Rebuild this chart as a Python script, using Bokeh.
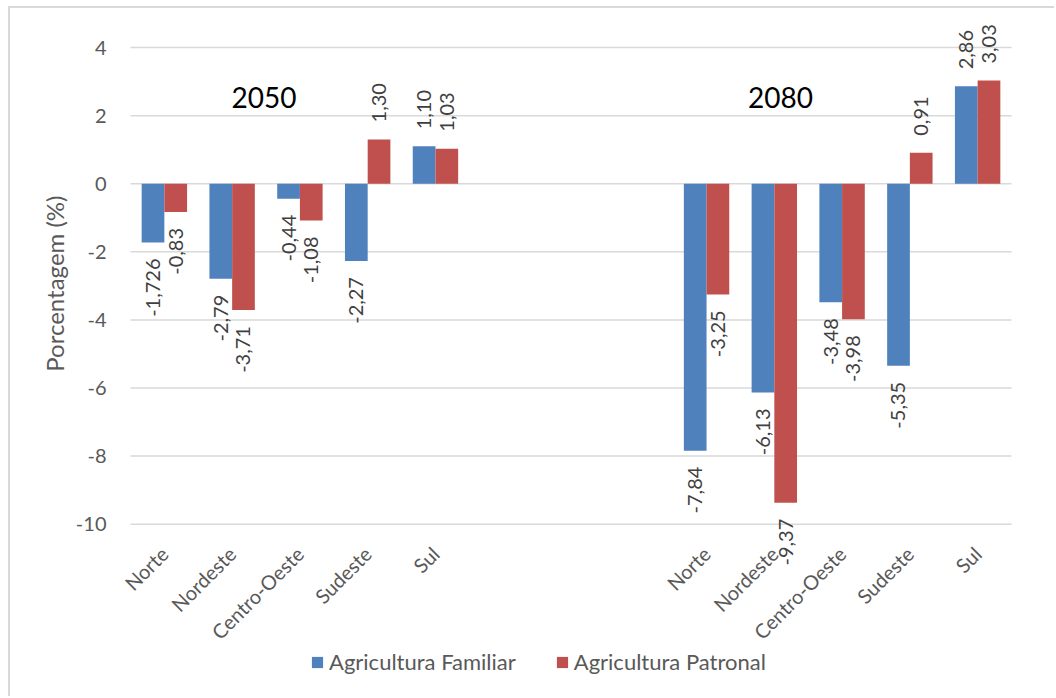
import math

from bokeh.core.properties import value
from bokeh.embed import file_html
from bokeh.models import (ColumnDataSource, FactorRange, FixedTicker, Label,
                          LabelSet, Legend, LegendItem, Range1d, Title)
from bokeh.plotting import figure
from bokeh.resources import INLINE
from bokeh.transform import dodge

# ---- data -------------------------------------------------------------
regions = ["Norte", "Nordeste", "Centro-Oeste", "Sudeste", "Sul"]
years = ["2050", "2080"]

familiar_2050 = [-1.726, -2.79, -0.44, -2.27, 1.10]
patronal_2050 = [-0.83, -3.71, -1.08, 1.30, 1.03]
familiar_2080 = [-7.84, -6.13, -3.48, -5.35, 2.86]
patronal_2080 = [-3.25, -9.37, -3.98, 0.91, 3.03]

y_ticks = [-10, -8, -6, -4, -2, 0, 2, 4]

series_names = ["Agricultura Familiar", "Agricultura Patronal"]
BLUE = "#4F81BD"
RED = "#C0504D"
FONT = "Lato"
GRAY = "#595959"
GRID = "#D9D9D9"

# ---- categorical slots: two groups separated by three empty slots -----
gap_slots = ["gap1", "gap2", "gap3"]
keys = [f"{y} {r}" for y in years for r in regions]
factors = keys[:5] + gap_slots + keys[5:]


def fmt(v):
    s = f"{v:.2f}" if round(v, 2) == v else f"{v}"
    return s.replace(".", ",")


def make_source(vals_2050, vals_2080):
    vals = list(vals_2050) + list(vals_2080)
    return ColumnDataSource(dict(
        x=keys,
        top=vals,
        label=[fmt(v) for v in vals],
        align=["left" if v >= 0 else "right" for v in vals],
        yoff=[17 if v >= 0 else -16 for v in vals],
    ))


src_fam = make_source(familiar_2050, familiar_2080)
src_pat = make_source(patronal_2050, patronal_2080)

# ---- figure -----------------------------------------------------------
# The frame reaches below the -10 line (and a little past the outer slots)
# so that category names, the lowest value label and the legend can sit
# around the plotted area without being clipped.
p = figure(
    width=1046, height=690,
    x_range=FactorRange(factors=factors, range_padding=0.221,
                        range_padding_units="absolute"),
    y_range=Range1d(-15.12, 5),
    x_axis_location=None,
    output_backend="svg", toolbar_location=None,
    min_border_left=105, min_border_right=30,
    min_border_top=5, min_border_bottom=0,
    styles={"margin-left": "8px", "margin-top": "6px",
            "border-left": "2px solid #D9D9D9",
            "border-top": "2px solid #D9D9D9"},
)
p.outline_line_color = None
p.background_fill_color = "white"
p.border_fill_color = "white"
p.xgrid.grid_line_color = None
p.ygrid.grid_line_color = None

# horizontal gridlines spanning the category slots only
grid_src = ColumnDataSource(dict(
    x0=[factors[0]] * len(y_ticks),
    x1=[factors[-1]] * len(y_ticks),
    y=y_ticks,
))
p.segment(x0=dodge("x0", -0.5, range=p.x_range), y0="y",
          x1=dodge("x1", 0.5, range=p.x_range), y1="y",
          source=grid_src, line_color=GRID, line_width=1.5)

bar_w = 0.335
half = bar_w / 2

r_fam = p.vbar(x=dodge("x", -half, range=p.x_range), top="top", bottom=0,
               width=bar_w, source=src_fam, fill_color=BLUE, line_color=None)
r_pat = p.vbar(x=dodge("x", half, range=p.x_range), top="top", bottom=0,
               width=bar_w, source=src_pat, fill_color=RED, line_color=None)

# value labels, rotated and placed beyond the end of each bar
for src, off in ((src_fam, -half), (src_pat, half)):
    p.add_layout(LabelSet(
        x=dodge("x", off, range=p.x_range), y="top", text="label",
        source=src, angle=math.pi / 2, text_align="align",
        text_baseline="middle", y_offset="yoff",
        text_font=value(FONT), text_font_size="20px", text_color="#404040",
    ))

# group titles
for txt, xpos in zip(years, (1.97, 9.59)):
    p.add_layout(Label(
        x=xpos, y=2, y_offset=5, text=txt, text_align="center",
        text_baseline="bottom", text_font=FONT,
        text_font_size="28px", text_color="black",
        background_fill_color="white", padding=3,
    ))

# ---- y axis -----------------------------------------------------------
p.yaxis.ticker = FixedTicker(ticks=y_ticks)
p.yaxis.major_label_overrides = {t: str(t) for t in y_ticks}
p.yaxis.axis_line_color = None
p.yaxis.major_tick_line_color = None
p.yaxis.minor_tick_line_color = None
p.yaxis.major_label_standoff = 3
p.yaxis.major_label_text_font = FONT
p.yaxis.major_label_text_font_size = "20px"
p.yaxis.major_label_text_color = GRAY

p.add_layout(Title(
    text="Porcentagem (%)", align="right", offset=182, standoff=8,
    text_font=FONT, text_font_size="24px", text_font_style="normal",
    text_color=GRAY,
), "left")

# ---- category names under the -10 baseline ---------------------------
cat_src = ColumnDataSource(dict(
    x=keys,
    y=[y_ticks[0]] * len(keys),
    name=regions * len(years),
))
p.text(x="x", y="y", text="name", source=cat_src, angle=math.pi / 4,
       text_align="right", text_baseline="middle", y_offset=26,
       text_font=value(FONT), text_font_size="20px", text_color=GRAY)

# ---- legend -----------------------------------------------------------
legend = Legend(
    items=[LegendItem(label=series_names[0], renderers=[r_fam]),
           LegendItem(label=series_names[1], renderers=[r_pat])],
    orientation="horizontal", location=(195, 23),
    glyph_width=14, glyph_height=14, label_standoff=5, spacing=39,
    padding=0, margin=0, border_line_color=None, background_fill_alpha=0,
    label_text_font=FONT, label_text_font_size="22px",
    label_text_color=GRAY,
)
p.add_layout(legend, "center")

open("out.html", "w").write(file_html(p, INLINE))
